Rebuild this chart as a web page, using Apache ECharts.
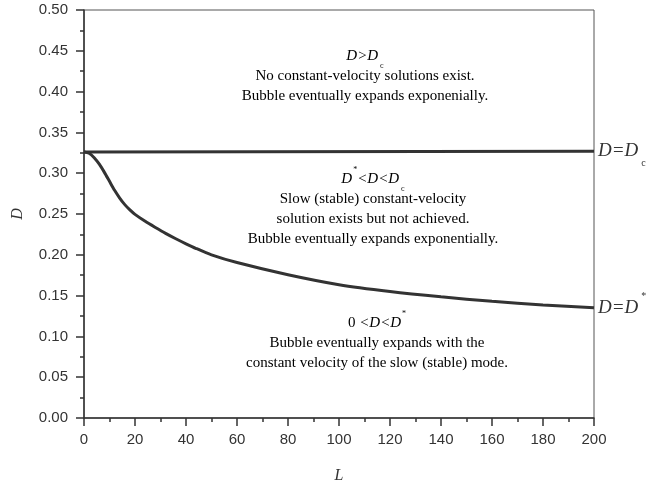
<!DOCTYPE html>
<html>
<head>
<meta charset="utf-8">
<script src="https://cdn.jsdelivr.net/npm/echarts@6/dist/echarts.min.js"></script>
<style>html,body{margin:0;padding:0;background:#fff;}#c{width:646px;height:489px;}</style>
</head>
<body>
<div id="c"></div>
<script>
// Data
var xTickValues = [0, 20, 40, 60, 80, 100, 120, 140, 160, 180, 200];
var yTickLabels = ['0.00','0.05','0.10','0.15','0.20','0.25','0.30','0.35','0.40','0.45','0.50'];
var criticalL = [0, 200];
var criticalD = [0.326, 0.327];
var stableL = [0, 2, 4, 6, 8, 10, 12, 14, 16, 18, 20, 24, 28, 32, 36, 40, 44, 50, 60, 80, 100, 120, 140, 160, 180, 200];
var stableD = [0.326, 0.3245, 0.319, 0.311, 0.301, 0.290, 0.279, 0.2695, 0.2615, 0.255, 0.2495, 0.241, 0.2335, 0.2263, 0.2197, 0.2135, 0.2077, 0.2000, 0.1905, 0.1755, 0.1633, 0.1550, 0.1485, 0.1430, 0.1385, 0.1350];

var serif = '"Liberation Serif", "Times New Roman", serif';
var sans = '"Liberation Sans", Arial, Helvetica, sans-serif';
var ink = '#333';

function zip(a, b) { return a.map(function (v, i) { return [v, b[i]]; }); }

var chart = echarts.init(document.getElementById('c'));

var LH = 20;
var richCommon = {
  t: { fontFamily: serif, fontSize: 15, color: ink, lineHeight: LH },
  i: { fontFamily: serif, fontSize: 15, fontStyle: 'italic', color: ink, lineHeight: LH },
  sub: { fontFamily: serif, fontSize: 8, color: ink, verticalAlign: 'bottom', lineHeight: LH, padding: [0, 0, -4, 2] },
  sup: { fontFamily: serif, fontSize: 8, color: ink, verticalAlign: 'top', lineHeight: LH, padding: [-3, 0, 0, 1] }
};

var rightRich = {
  i: { fontFamily: serif, fontSize: 19, fontStyle: 'italic', color: ink, lineHeight: 22 },
  sub: { fontFamily: serif, fontSize: 10, color: ink, verticalAlign: 'bottom', lineHeight: 22, padding: [0, 0, -6, 3] },
  sup: { fontFamily: serif, fontSize: 10, color: ink, verticalAlign: 'top', lineHeight: 22, padding: [-5, 0, 0, 3] }
};

chart.setOption({
  animation: false,
  backgroundColor: '#fff',
  grid: { left: 84, right: 52, top: 10, bottom: 66, show: true, borderColor: '#555', borderWidth: 1 },
  xAxis: {
    type: 'value', min: 0, max: 200, interval: 20,
    name: 'L', nameLocation: 'middle', nameGap: 50,
    nameTextStyle: { fontFamily: serif, fontSize: 16, fontStyle: 'italic', color: ink },
    axisLine: { lineStyle: { color: ink, width: 1.5 } },
    axisTick: { length: 8, lineStyle: { color: ink, width: 1.5 } },
    minorTick: { show: true, splitNumber: 2, length: 4, lineStyle: { color: ink, width: 1.5 } },
    splitLine: { show: false },
    axisLabel: { fontFamily: sans, fontSize: 15, color: ink, margin: 14 }
  },
  yAxis: {
    type: 'value', min: 0, max: 0.5, interval: 0.05,
    name: 'D', nameLocation: 'middle', nameGap: 58, nameRotate: 90,
    nameTextStyle: { fontFamily: serif, fontSize: 16, fontStyle: 'italic', color: ink },
    axisLine: { show: true, lineStyle: { color: ink, width: 1.5 } },
    axisTick: { show: true, length: 8, lineStyle: { color: ink, width: 1.5 } },
    minorTick: { show: true, splitNumber: 2, length: 4, lineStyle: { color: ink, width: 1.5 } },
    splitLine: { show: false },
    axisLabel: {
      fontFamily: sans, fontSize: 15, color: ink, margin: 16,
      formatter: function (v) { return yTickLabels[Math.round(v / 0.05)]; }
    }
  },
  series: [
    {
      type: 'line', data: zip(criticalL, criticalD), symbol: 'none',
      lineStyle: { color: ink, width: 3 },
      endLabel: { show: true, distance: 4, formatter: '{i|D=D}{sub|c}', rich: rightRich }
    },
    {
      type: 'line', data: zip(stableL, stableD), symbol: 'none', smooth: 0.25,
      lineStyle: { color: ink, width: 3 },
      endLabel: { show: true, distance: 4, formatter: '{i|D=D}{sup|*}', rich: rightRich }
    }
  ]
});

// Annotation text blocks placed in the plot area
var blocks = [
  { cx: 365, top: 46, text: '{i|D>D}{sub|c}\n{t|No constant-velocity solutions exist.}\n{t|Bubble eventually expands exponenially.}' },
  { cx: 373, top: 169, text: '{i|D}{sup|*}{i|<D<D}{sub|c}\n{t|Slow (stable) constant-velocity}\n{t|solution exists but not achieved.}\n{t|Bubble eventually expands exponentially.}' },
  { cx: 377, top: 313, text: '{t|0 }{i|<D<D}{sup|*}\n{t|Bubble eventually expands with the}\n{t|constant velocity of the slow (stable) mode.}' }
];
chart.setOption({
  graphic: blocks.map(function (b) {
    return {
      type: 'text', x: b.cx, y: b.top,
      style: { text: b.text, rich: richCommon, align: 'center', verticalAlign: 'top' }
    };
  })
});
</script>
</body>
</html>
